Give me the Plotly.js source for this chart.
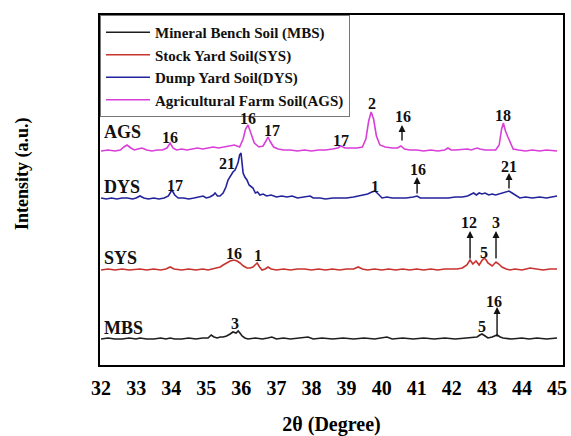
<!DOCTYPE html>
<html>
<head>
<meta charset="utf-8">
<script src="https://cdn.plot.ly/plotly-3.0.1.min.js"></script>
<style>html,body{margin:0;padding:0;background:#fff;}#chart{width:571px;height:436px;}</style>
</head>
<body>
<div id="chart"></div>
<script>
// ---- Data (intensity in a.u. above each pattern's baseline) ----
const seriesNames = ['Mineral Bench Soil (MBS)', 'Stock Yard Soil(SYS)', 'Dump Yard Soil(DYS)', 'Agricultural Farm Soil(AGS)'];
const seriesShort = ['MBS', 'SYS', 'DYS', 'AGS'];
const seriesOffsets = [26, 95, 166, 214];
const shortLabelHeights = [11, 12, 12, 19];

const theta_MBS = [32.00,32.20,32.40,32.60,32.80,33.00,33.11,33.30,33.50,33.70,33.85,33.97,34.10,34.30,34.50,34.70,34.90,35.05,35.14,35.22,35.31,35.40,35.48,35.58,35.68,35.76,35.85,35.91,35.96,36.02,36.10,36.19,36.40,36.60,36.75,36.87,37.00,37.20,37.40,37.60,37.75,37.90,38.05,38.30,38.60,38.90,39.20,39.50,39.80,40.00,40.15,40.30,40.60,40.90,41.20,41.50,41.80,42.10,42.40,42.60,42.72,42.80,42.86,42.95,43.03,43.15,43.22,43.29,43.38,43.46,43.70,44.00,44.20,44.43,44.70,45.00];
const int_MBS   = [0,1,0,0,1,0,1,0,0,1,0,1,0,0,1,0,1,1,4,2,1,2,2,3,5,7,6,8,6,3,1,0,1,0,1,2,0,1,0,1,1,2,0,1,0,1,0,1,0,1,2,0,1,0,1,0,1,0,1,1,2,4,5,3,1,2,3,4,2,1,0,1,0,1,0,1];

const theta_SYS = [32.00,32.20,32.40,32.60,32.80,33.00,33.11,33.30,33.50,33.70,33.85,33.97,34.08,34.30,34.50,34.70,34.90,35.05,35.19,35.30,35.40,35.48,35.58,35.68,35.79,35.88,35.96,36.06,36.16,36.25,36.33,36.40,36.45,36.52,36.59,36.68,36.76,36.85,37.00,37.20,37.40,37.60,37.80,38.00,38.20,38.40,38.60,38.80,39.00,39.20,39.33,39.45,39.60,39.80,40.00,40.20,40.40,40.60,40.80,41.00,41.20,41.40,41.60,41.80,42.00,42.15,42.30,42.43,42.52,42.60,42.69,42.78,42.85,42.92,42.98,43.03,43.15,43.26,43.34,43.43,43.55,43.66,43.80,44.00,44.23,44.40,44.60,44.80,45.00];
const int_SYS   = [0,1,0,1,0,1,1,0,1,0,1,3,1,0,1,0,1,0,1,2,3,5,7,9,10,9,7,4,2,2,3,5,7,3,0,1,3,1,0,1,0,1,1,0,1,0,1,0,1,1,3,1,0,1,0,1,0,1,0,1,0,1,0,1,1,1,2,5,10,6,9,5,9,12,10,7,4,8,6,3,1,0,1,0,2,1,0,1,1];

const theta_DYS = [32.00,32.15,32.30,32.45,32.60,32.75,32.90,33.00,33.11,33.22,33.35,33.50,33.65,33.80,33.92,34.02,34.10,34.20,34.35,34.50,34.65,34.80,34.91,35.00,35.10,35.20,35.25,35.32,35.39,35.48,35.56,35.62,35.70,35.76,35.82,35.85,35.88,35.91,35.95,35.99,36.02,36.05,36.10,36.16,36.22,36.28,36.33,36.40,36.46,36.53,36.62,36.72,36.85,37.00,37.15,37.30,37.45,37.60,37.75,37.90,37.96,38.05,38.24,38.40,38.61,38.80,39.00,39.20,39.35,39.47,39.60,39.72,39.81,39.90,40.01,40.15,40.30,40.50,40.70,40.90,41.01,41.10,41.30,41.50,41.70,41.90,42.10,42.30,42.45,42.55,42.62,42.70,42.78,42.86,42.95,43.05,43.15,43.25,43.35,43.45,43.55,43.63,43.72,43.82,43.94,44.10,44.30,44.50,44.70,44.85,45.00];
const int_DYS   = [1,0,1,0,1,1,0,1,3,1,0,1,0,1,3,9,4,1,1,0,1,2,3,1,2,4,6,3,3,6,12,19,24,27,29,31,34,37,44,46,38,26,22,19,14,12,11,6,7,4,5,3,4,2,3,2,3,1,2,3,3,1,1,0,1,1,1,2,3,4,5,7,8,5,1,2,1,1,1,2,3,1,1,1,1,1,2,2,3,5,6,4,6,5,6,4,5,4,5,6,7,8,6,4,1,2,1,2,1,2,3];

const theta_AGS = [32.00,32.20,32.40,32.55,32.65,32.74,32.85,32.95,33.05,33.17,33.30,33.45,33.60,33.75,33.88,33.97,34.05,34.15,34.30,34.45,34.60,34.75,34.90,35.05,35.20,35.35,35.50,35.65,35.80,35.95,36.05,36.12,36.19,36.27,36.37,36.50,36.62,36.70,36.76,36.83,36.92,37.05,37.20,37.40,37.60,37.80,38.00,38.20,38.40,38.60,38.75,38.84,38.95,39.10,39.30,39.45,39.55,39.63,39.70,39.77,39.85,39.95,40.10,40.30,40.45,40.55,40.65,40.80,41.00,41.20,41.40,41.60,41.80,41.89,41.98,42.10,42.30,42.45,42.55,42.65,42.72,42.80,42.95,43.10,43.25,43.35,43.42,43.47,43.53,43.60,43.67,43.75,43.90,44.10,44.30,44.50,44.70,44.90,45.00];
const int_AGS   = [0,1,0,1,4,6,3,1,2,3,1,0,1,1,3,8,3,1,2,1,2,3,2,3,4,3,4,5,6,4,12,22,26,18,8,4,5,10,14,9,4,2,1,1,0,1,0,1,1,2,3,5,3,3,3,4,12,30,39,32,15,6,4,3,3,5,2,1,1,0,1,0,1,3,1,1,2,2,1,2,3,2,1,1,1,6,22,28,20,14,8,2,1,0,1,0,1,0,0];

// Peak labels: series index, text, 2θ, label height above baseline
const peakSeries = [3,3,3,3,3,3,3, 2,2,2,2,2, 1,1,1,1,1, 0,0,0];
const peakText   = ['16','16','17','17','2','16','18', '17','21','1','16','21', '16','1','12','5','3', '3','5','16'];
const peakTheta  = [33.97,36.20,36.86,38.84,39.73,40.61,43.46, 34.11,35.59,39.81,41.04,43.63, 35.79,36.48,42.49,42.92,43.26, 35.82,42.86,43.20];
const peakHeight = [14,33,21,11,48,35,36, 14,36,13,30,33, 17,15,48,18,48, 16,13,38];

// Arrows: series index, 2θ, tail height, head height
const arrowSeries = [3,2,2,1,1,0];
const arrowTheta  = [40.58,41.01,43.63,42.52,43.26,43.29];
const arrowTail   = [9,4,9,10,10,1];
const arrowHead   = [26,22,26,39,39,32];

const lineColors = ['#1e1e1e', '#c8322f', '#23239b', '#d93ed9'];
const dataTheta = [theta_MBS, theta_SYS, theta_DYS, theta_AGS];
const dataInt = [int_MBS, int_SYS, int_DYS, int_AGS];

const FONT = 'Liberation Serif, Times New Roman, serif';

const traces = seriesNames.map((name, i) => ({
  type: 'scatter', mode: 'lines', name: name,
  x: dataTheta[i],
  y: dataInt[i].map(v => v + seriesOffsets[i]),
  line: {color: lineColors[i], width: 1.6},
  hoverinfo: 'skip'
}));

const annotations = [];
peakText.forEach((t, k) => {
  annotations.push({
    x: peakTheta[k], y: seriesOffsets[peakSeries[k]] + peakHeight[k],
    xref: 'x', yref: 'y', text: t, showarrow: false,
    font: {family: FONT, size: 16, color: '#111', weight: 'bold'}
  });
});
arrowTheta.forEach((t, k) => {
  const off = seriesOffsets[arrowSeries[k]];
  annotations.push({
    x: t, y: off + arrowHead[k], ax: t, ay: off + arrowTail[k],
    xref: 'x', yref: 'y', axref: 'x', ayref: 'y',
    text: '', showarrow: true, arrowhead: 2, arrowsize: 1, arrowwidth: 1.4,
    arrowcolor: '#111', standoff: 0, startstandoff: 0
  });
});
seriesShort.forEach((s, i) => {
  annotations.push({
    x: 32.04, y: seriesOffsets[i] + shortLabelHeights[i], xref: 'x', yref: 'y',
    xanchor: 'left', text: s, showarrow: false,
    font: {family: FONT, size: 18, color: '#111', weight: 'bold'}
  });
});
annotations.push({
  x: -0.166, y: 0.546, xref: 'paper', yref: 'paper', textangle: -90,
  xanchor: 'center', yanchor: 'middle',
  text: 'Intensity (a.u.)', showarrow: false,
  font: {family: FONT, size: 18, color: '#000', weight: 'bold'}
});

const layout = {
  width: 571, height: 436,
  margin: {l: 100, r: 8, t: 15, b: 71},
  paper_bgcolor: '#fff', plot_bgcolor: '#fff',
  font: {family: FONT, color: '#000', weight: 'bold'},
  showlegend: true,
  legend: {
    x: 0, y: 1, xanchor: 'left', yanchor: 'top', xref: 'paper', yref: 'paper',
    bgcolor: '#fff', bordercolor: '#777', borderwidth: 1,
    font: {family: FONT, size: 15, color: '#111', weight: 'bold'},
    itemwidth: 44, traceorder: 'normal'
  },
  xaxis: {
    range: [31.97, 45.17], tickvals: [32,33,34,35,36,37,38,39,40,41,42,43,44,45],
    ticks: '', showgrid: false, zeroline: false,
    showline: true, mirror: true, linecolor: '#000', linewidth: 2,
    tickfont: {family: FONT, size: 20, color: '#000', weight: 'bold'},
    ticklabelstandoff: 4,
    title: {text: '2θ (Degree)', standoff: 30, font: {family: FONT, size: 20, color: '#000', weight: 'bold'}}
  },
  yaxis: {
    range: [0, 350], showticklabels: false, ticks: '', showgrid: false, zeroline: false,
    showline: true, mirror: true, linecolor: '#000', linewidth: 2
  },
  annotations: annotations
};

Plotly.newPlot('chart', traces, layout, {displayModeBar: false, staticPlot: true});
</script>
</body>
</html>
